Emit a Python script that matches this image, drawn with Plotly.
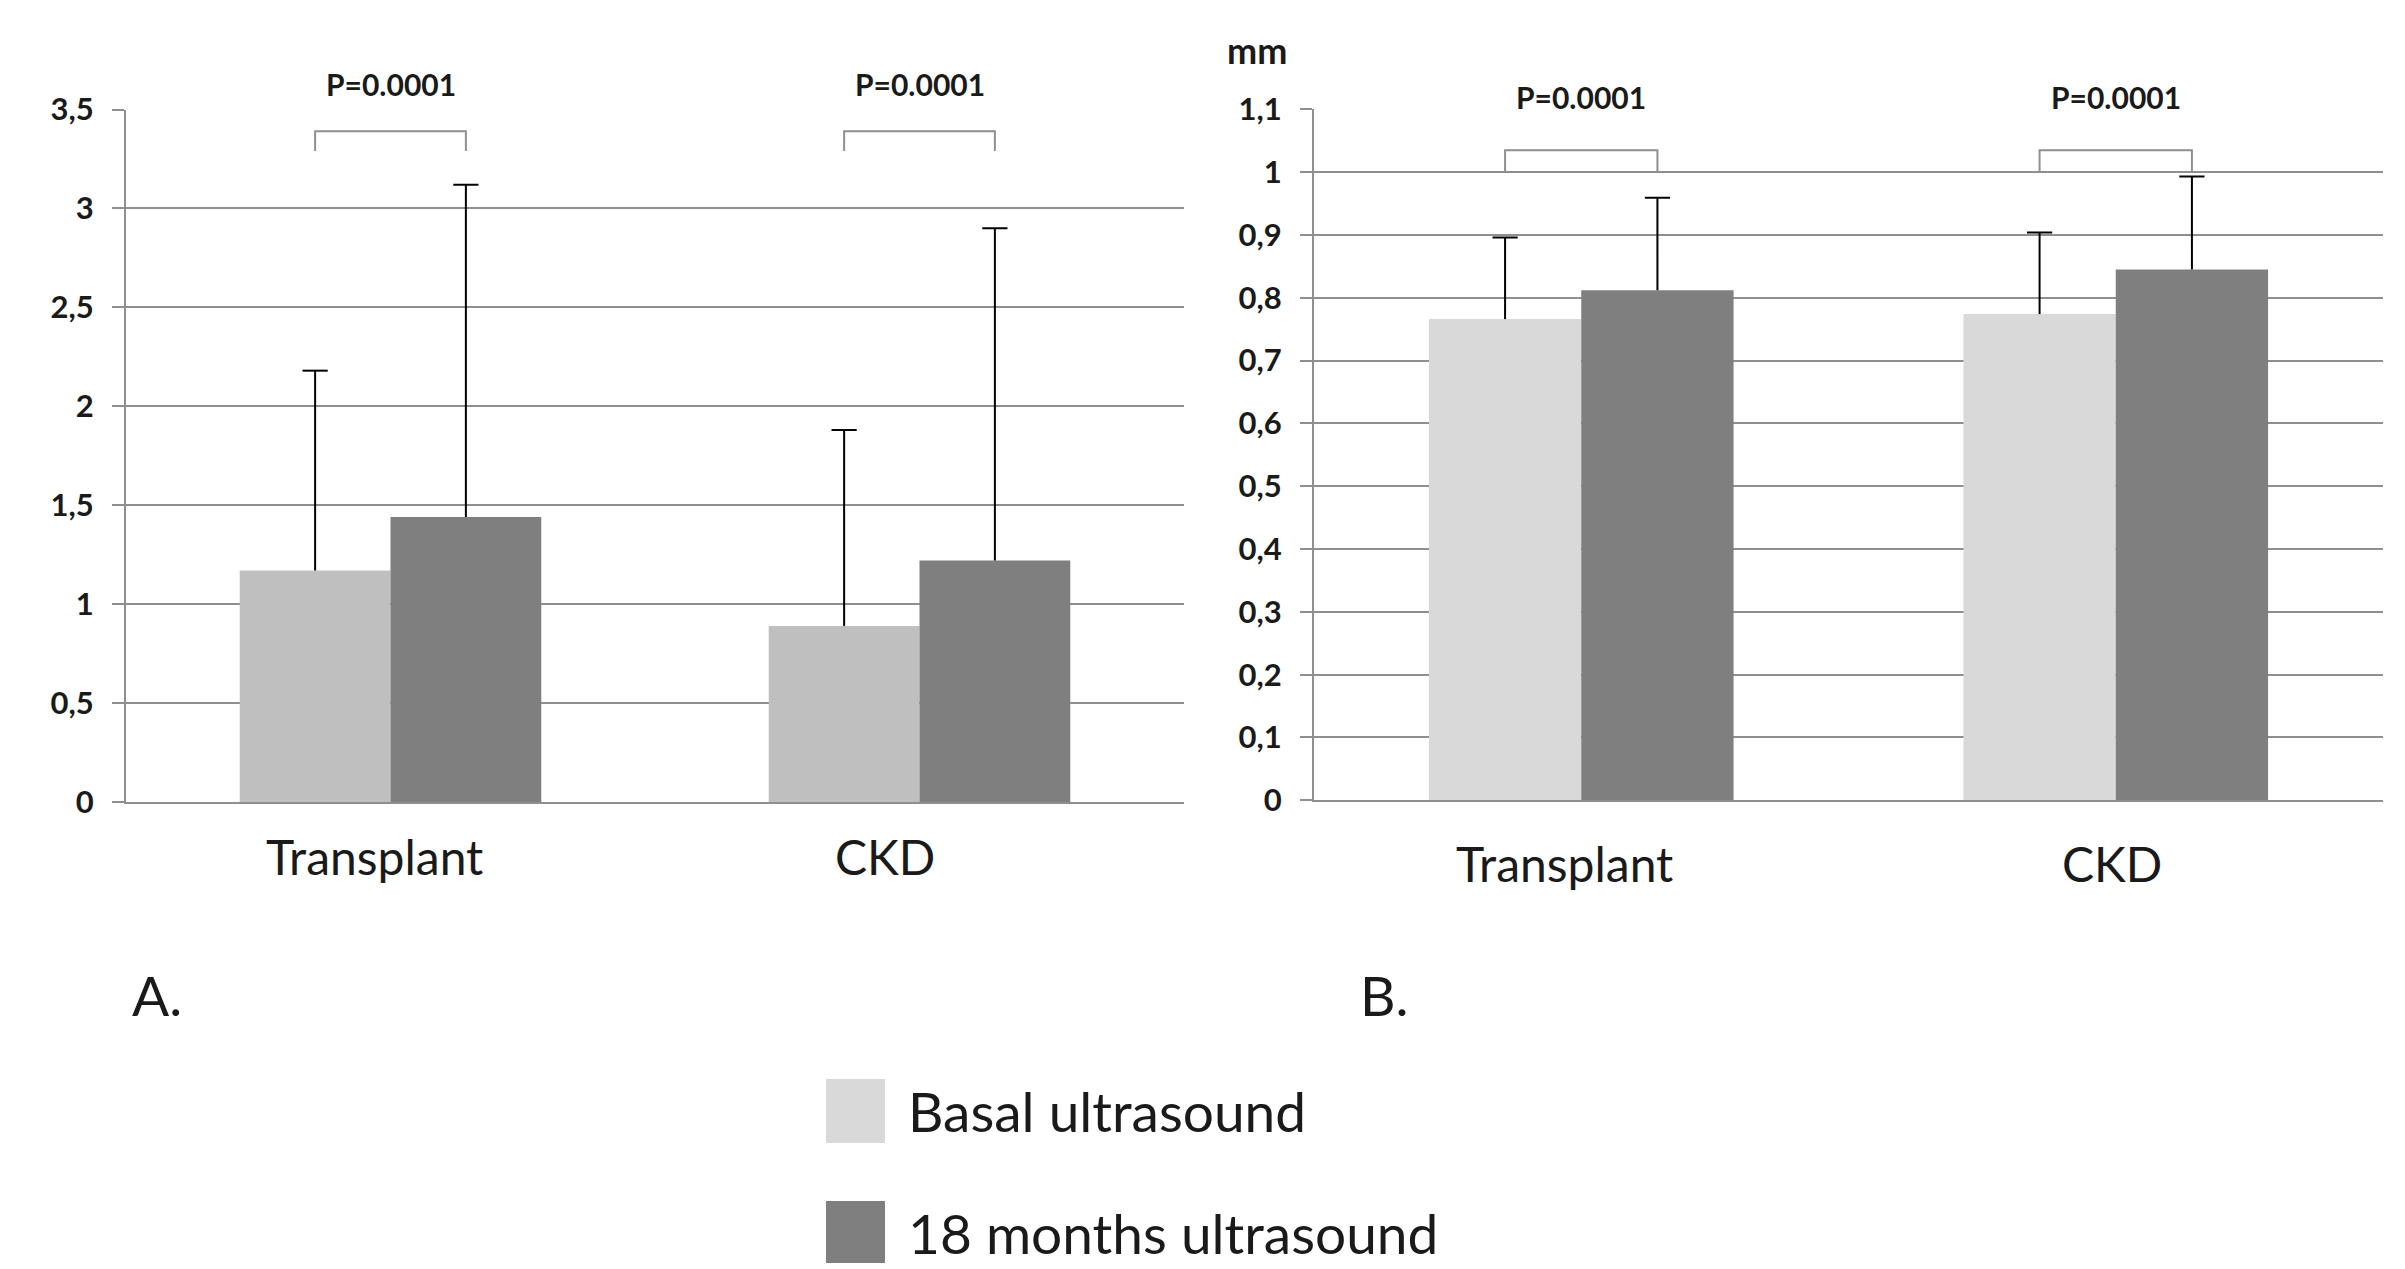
import plotly.graph_objects as go

# ---------------- data ----------------
categories = ["Transplant", "CKD"]
series_names = ["Basal ultrasound", "18 months ultrasound"]

# Panel A
a_basal = [1.17, 0.89]
a_basal_err = [1.01, 0.99]
a_18m = [1.44, 1.22]
a_18m_err = [1.68, 1.68]
a_tickvals = [0, 0.5, 1, 1.5, 2, 2.5, 3, 3.5]
a_ticktext = ["0", "0,5", "1", "1,5", "2", "2,5", "3", "3,5"]

# Panel B (mm)
b_basal = [0.766, 0.774]
b_basal_err = [0.130, 0.130]
b_18m = [0.812, 0.845]
b_18m_err = [0.147, 0.148]
b_tickvals = [0, 0.1, 0.2, 0.3, 0.4, 0.5, 0.6, 0.7, 0.8, 0.9, 1.0, 1.1]
b_ticktext = ["0", "0,1", "0,2", "0,3", "0,4", "0,5", "0,6", "0,7", "0,8", "0,9", "1", "1,1"]

p_labels = ["P=0.0001", "P=0.0001"]
# bracket levels (top, leg bottom) per panel, in axis units
a_bracket = (3.39, 3.29)
b_bracket = (1.035, 1.0)
a_plabel_y = 3.63
b_plabel_y = 1.12
A_MAX, B_MAX = 3.5, 1.1

# ---------------- style ----------------
W, H = 2405, 1269
FONT = "Lato, 'Open Sans', 'Liberation Sans', sans-serif"
GRID = "#8f8f8f"
TXT = "#1a1a1a"
A_COLORS = ["#bfbfbf", "#7f7f7f"]
B_COLORS = ["#d9d9d9", "#7f7f7f"]
BARGAP = 0.43
OFF = (1 - BARGAP) / 4  # offset of each bar centre from its category centre
idx = list(range(len(categories)))


def px(x):
    return x / W


def py(y):
    return 1 - y / H


fig = go.Figure()


def add_series(vals, errs, name, color, side, xa, ya):
    fig.add_trace(go.Bar(
        x=idx, y=vals, name=name, marker=dict(color=color, line=dict(width=0)),
        xaxis=xa, yaxis=ya, showlegend=False,
    ))
    xs, ys = [], []
    for i, v, e in zip(idx, vals, errs):
        xs += [i + side * OFF, i + side * OFF, None]
        ys += [v, v + e, None]
    fig.add_trace(go.Scatter(x=xs, y=ys, mode="lines", line=dict(color="#000000", width=2),
                             xaxis=xa, yaxis=ya, showlegend=False, hoverinfo="skip"))
    fig.add_trace(go.Scatter(x=[i + side * OFF for i in idx], y=[v + e for v, e in zip(vals, errs)],
                             mode="markers",
                             marker=dict(symbol="line-ew", size=18, color="#000000",
                                         line=dict(color="#000000", width=2)),
                             xaxis=xa, yaxis=ya, showlegend=False, hoverinfo="skip"))


add_series(a_basal, a_basal_err, series_names[0], A_COLORS[0], -1, "x", "y")
add_series(a_18m, a_18m_err, series_names[1], A_COLORS[1], 1, "x", "y")
add_series(b_basal, b_basal_err, series_names[0], B_COLORS[0], -1, "x2", "y2")
add_series(b_18m, b_18m_err, series_names[1], B_COLORS[1], 1, "x2", "y2")

xaxis_common = dict(
    type="linear", range=[-0.5, 1.5], showgrid=False, zeroline=False,
    showline=True, linecolor=GRID, linewidth=2, ticks="", showticklabels=False,
    fixedrange=True, automargin=False,
)
yaxis_common = dict(
    showgrid=True, gridcolor=GRID, gridwidth=2, zeroline=False,
    showline=True, linecolor=GRID, linewidth=2,
    ticks="outside", ticklen=12, tickcolor=GRID, tickwidth=2,
    tickfont=dict(family=FONT, size=31, color=TXT, weight="bold"),
    tickmode="array", fixedrange=True, automargin=False,
)

shapes = []
annotations = []

panels = [("x", "y", a_bracket, a_plabel_y, A_MAX), ("x2", "y2", b_bracket, b_plabel_y, B_MAX)]
for (xa, ya, brk, ply, ymax) in panels:
    for i, lab in zip(idx, p_labels):
        x0, x1 = i - OFF, i + OFF
        top, bot = brk
        shapes.append(dict(type="path", xref=xa, yref=ya,
                           path=f"M {x0},{bot} L {x0},{top} L {x1},{top} L {x1},{bot}",
                           line=dict(color=GRID, width=2)))
        annotations.append(dict(text=lab, x=i, y=ply / ymax, xref=xa, yref=ya + " domain",
                                showarrow=False, xanchor="center", yanchor="middle",
                                font=dict(family=FONT, size=30, color=TXT, weight="bold")))

# category labels (x axes)
cat_label_y = {"x": 856, "x2": 863}
cat_label_shift = {"x": [-16, -35], "x2": [-17, -4]}
for xa in ["x", "x2"]:
    for i, cat, sh in zip(idx, categories, cat_label_shift[xa]):
        annotations.append(dict(text=cat, x=i, xshift=sh, y=py(cat_label_y[xa]), xref=xa, yref="paper",
                                showarrow=False, xanchor="center", yanchor="middle",
                                font=dict(family=FONT, size=48, color=TXT)))

# unit label
annotations.append(dict(text="mm", x=px(1257), y=py(50), xref="paper", yref="paper", showarrow=False,
                        xanchor="center", yanchor="middle",
                        font=dict(family=FONT, size=36, color=TXT, weight="bold")))
# panel labels
annotations.append(dict(text="A.", x=px(131), y=py(995), xref="paper", yref="paper", showarrow=False,
                        xanchor="left", yanchor="middle", borderpad=0, font=dict(family=FONT, size=55, color=TXT)))
annotations.append(dict(text="B.", x=px(1359), y=py(995), xref="paper", yref="paper", showarrow=False,
                        xanchor="left", yanchor="middle", borderpad=0, font=dict(family=FONT, size=55, color=TXT)))

# manual legend
legend_rows = [(1079, 1143, 1111), (1201, 1263, 1233)]
for (y0, y1, yc), name, col in zip(legend_rows, series_names, B_COLORS):
    shapes.append(dict(type="rect", xref="paper", yref="paper",
                       x0=px(826), x1=px(885), y0=py(y1), y1=py(y0),
                       fillcolor=col, line=dict(width=0)))
    annotations.append(dict(text=name, x=px(907), y=py(yc), xref="paper", yref="paper",
                            showarrow=False, xanchor="left", yanchor="middle", borderpad=0,
                            font=dict(family=FONT, size=55, color=TXT)))

fig.update_layout(
    width=W, height=H, autosize=False,
    margin=dict(l=0, r=0, t=0, b=0, pad=0, autoexpand=False),
    paper_bgcolor="white", plot_bgcolor="white",
    barmode="group", bargap=BARGAP, bargroupgap=0,
    showlegend=False,
    xaxis=dict(**xaxis_common, domain=[px(126), px(1184)], anchor="y"),
    yaxis=dict(**yaxis_common, domain=[py(802), py(109.5)], anchor="x", range=[0, A_MAX],
               tickvals=a_tickvals, ticktext=a_ticktext, ticklabelstandoff=12),
    xaxis2=dict(**xaxis_common, domain=[px(1314), px(2383)], anchor="y2"),
    yaxis2=dict(**yaxis_common, domain=[py(800.3), py(109.3)], anchor="x2", range=[0, B_MAX],
                tickvals=b_tickvals, ticktext=b_ticktext, ticklabelstandoff=12),
    shapes=shapes, annotations=annotations,
)

fig.write_html("out.html", config={"displayModeBar": False, "staticPlot": True},
               post_script="document.body.style.margin='0px';document.body.style.overflow='hidden';")
